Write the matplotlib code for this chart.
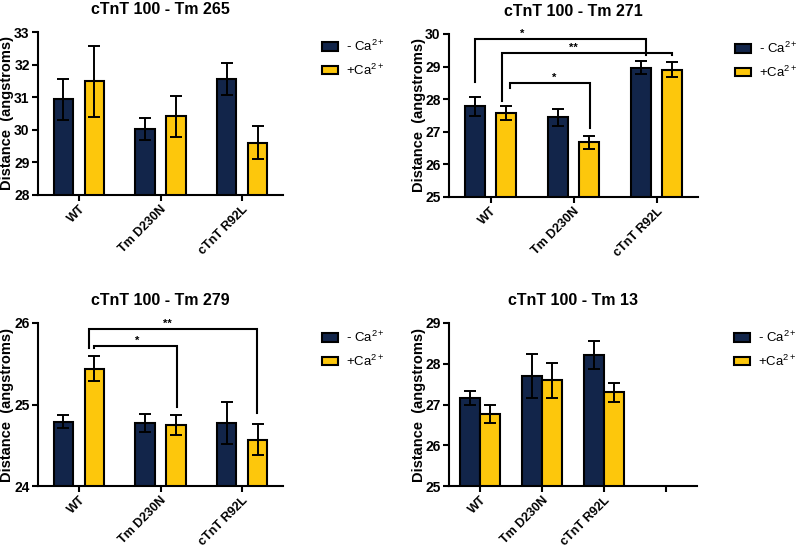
import matplotlib
matplotlib.use('Agg')
import matplotlib.pyplot as plt
import numpy as np
from matplotlib.patches import Patch

plt.rcParams['font.family'] = ['Liberation Sans', 'DejaVu Sans']
plt.rcParams['mathtext.fontset'] = 'custom'
plt.rcParams['mathtext.rm'] = 'Liberation Sans'
plt.rcParams['mathtext.it'] = 'Liberation Sans'
plt.rcParams['mathtext.bf'] = 'Liberation Sans:bold'

NAVY = '#12254a'
GOLD = '#fdc70c'

groups = ['WT', 'Tm D230N', 'cTnT R92L']
titles = ['cTnT 100 - Tm 265', 'cTnT 100 - Tm 271',
          'cTnT 100 - Tm 279', 'cTnT 100 - Tm 13']
ylims = [(28, 33), (25, 30), (24, 26), (25, 29)]

# mean distance (angstroms) and error
tm265_no_ca     = [30.94, 30.02, 31.56]
tm265_no_ca_err = [0.63, 0.34, 0.49]
tm265_ca        = [31.49, 30.42, 29.61]
tm265_ca_err    = [1.09, 0.63, 0.51]

tm271_no_ca     = [27.78, 27.44, 28.97]
tm271_no_ca_err = [0.30, 0.25, 0.19]
tm271_ca        = [27.57, 26.68, 28.91]
tm271_ca_err    = [0.21, 0.20, 0.24]

tm279_no_ca     = [24.79, 24.77, 24.77]
tm279_no_ca_err = [0.08, 0.11, 0.26]
tm279_ca        = [25.44, 24.75, 24.57]
tm279_ca_err    = [0.15, 0.12, 0.19]

tm13_no_ca      = [27.15, 27.70, 28.22]
tm13_no_ca_err  = [0.17, 0.55, 0.35]
tm13_ca         = [26.77, 27.59, 27.30]
tm13_ca_err     = [0.22, 0.42, 0.23]

# significance brackets: x left, x right, bar height, left foot, right foot, label, label x
sig_271 = [(-0.19, 1.87, 29.85, 28.53, 29.36, '*', 0.38),
           (0.14, 2.19, 29.42, 27.94, 29.36, '**', 1.00),
           (0.24, 1.20, 28.50, 28.34, 27.12, '*', 0.77)]
sig_279 = [(0.13, 2.18, 25.93, 25.69, 24.89, '**', 1.09),
           (0.19, 1.20, 25.72, 25.69, 24.97, '*', 0.72)]

panels = [
    (tm265_no_ca, tm265_no_ca_err, tm265_ca, tm265_ca_err, []),
    (tm271_no_ca, tm271_no_ca_err, tm271_ca, tm271_ca_err, sig_271),
    (tm279_no_ca, tm279_no_ca_err, tm279_ca, tm279_ca_err, sig_279),
    (tm13_no_ca, tm13_no_ca_err, tm13_ca, tm13_ca_err, []),
]

W, H = 800, 545
# axes boxes in pixels: left, top, right, bottom
boxes = [(38, 32, 283, 195), (449, 34, 698, 197),
         (38, 323, 283, 486), (449, 323, 697, 486)]
ylabel_right = [14, 426, 14, 426]      # pixel x of y-label's right edge
legend_x = [1.11, 1.10, 1.11, 1.10]

fig = plt.figure(figsize=(W / 100, H / 100), dpi=100)

for i, (no_ca, no_ca_err, ca, ca_err, sigs) in enumerate(panels):
    l, t, r, b = boxes[i]
    ax = fig.add_axes([l / W, 1 - b / H, (r - l) / W, (b - t) / H])
    ncat = 4 if i == 3 else 3
    x = np.arange(len(groups))
    if i == 3:
        off, w = 0.16, 0.32
    else:
        off, w = 0.19, 0.24
    ekw = dict(elinewidth=1.4, capthick=1.4, ecolor='black')
    ax.bar(x - off, no_ca, w, yerr=no_ca_err, color=NAVY, edgecolor='black',
           linewidth=1.5, capsize=4, error_kw=ekw)
    ax.bar(x + off, ca, w, yerr=ca_err, color=GOLD, edgecolor='black',
           linewidth=1.5, capsize=4, error_kw=ekw)

    for xl, xr, yb, yl, yr, lab, lx in sigs:
        ax.plot([xl, xl, xr, xr], [yl, yb, yb, yr], color='black', lw=1.5,
                clip_on=False, solid_joinstyle='miter')
        ax.text(lx, yb, lab, ha='center', va='bottom', fontsize=8,
                fontweight='bold')

    ax.set_xlim(-0.5, ncat - 0.5)
    ax.set_ylim(*ylims[i])
    ax.set_yticks(np.arange(ylims[i][0], ylims[i][1] + 1))
    ax.set_xticks(np.arange(ncat))
    ax.set_xticklabels(groups + [''] * (ncat - len(groups)), rotation=45,
                       ha='right', rotation_mode='anchor', fontsize=9,
                       fontweight='bold')
    for lbl in ax.get_yticklabels():
        lbl.set_fontweight('bold')
        lbl.set_fontsize(10)
    ax.spines['top'].set_visible(False)
    ax.spines['right'].set_visible(False)
    ax.spines['left'].set_linewidth(1.5)
    ax.spines['bottom'].set_linewidth(1.5)
    ax.tick_params(width=1.5, length=4, pad=2)
    ax.set_ylabel('Distance  (angstroms)', fontsize=10.5, fontweight='bold')
    ax.yaxis.set_label_coords((ylabel_right[i] - l) / (r - l), 0.5)
    ax.set_title(titles[i], fontsize=11.5, fontweight='bold', pad=13)

    handles = [Patch(facecolor=NAVY, edgecolor='black', linewidth=1.5),
               Patch(facecolor=GOLD, edgecolor='black', linewidth=1.5)]
    ax.legend(handles, ['- Ca$^{2+}$', '+Ca$^{2+}$'], loc='upper left',
              bbox_to_anchor=(legend_x[i], 1.03), frameon=False, fontsize=9.5,
              handlelength=1.25, handleheight=0.65, handletextpad=0.6,
              labelspacing=0.62)

fig.savefig('out.png', dpi=100)
